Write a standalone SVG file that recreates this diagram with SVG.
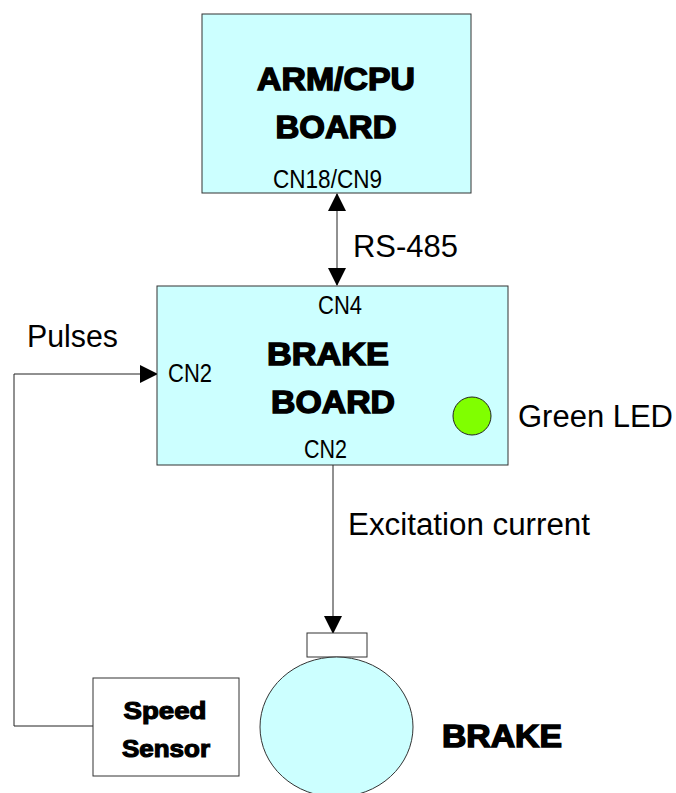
<svg xmlns="http://www.w3.org/2000/svg" width="676" height="793" viewBox="0 0 676 793">
<style>
.box{fill:#CCFFFF;stroke:#333;stroke-width:1}
.wbox{fill:#fff;stroke:#333;stroke-width:1}
.ln{fill:none;stroke:#222;stroke-width:1}
.lbl{font-family:"Liberation Sans",Arial,sans-serif;font-size:31px;fill:#000}
.cn{font-family:"Liberation Sans",Arial,sans-serif;font-size:25px;fill:#000}
.bold{font-family:"Liberation Sans",Arial,sans-serif;font-weight:bold;font-size:31px;fill:#000;stroke:#000;stroke-width:1.4;text-anchor:middle}
</style>
<defs>
<marker id="ah" markerWidth="18" markerHeight="18" viewBox="0 0 18 18" refX="17" refY="9" orient="auto" markerUnits="userSpaceOnUse">
<path d="M0,0 L18,9 L0,18 Z" fill="#000"/>
</marker>
<marker id="ahs" markerWidth="18" markerHeight="18" viewBox="0 0 18 18" refX="1" refY="9" orient="auto" markerUnits="userSpaceOnUse">
<path d="M18,0 L0,9 L18,18 Z" fill="#000"/>
</marker>
</defs>
<g id="connectors">
<line class="ln" x1="337" y1="194" x2="337" y2="285" marker-start="url(#ahs)" marker-end="url(#ah)"/>
<polyline class="ln" points="93,726 14,726 14,374 157,374" marker-end="url(#ah)"/>
<line class="ln" x1="333" y1="465" x2="333" y2="633" marker-end="url(#ah)"/>
<text class="lbl" x="353" y="257" textLength="105" lengthAdjust="spacingAndGlyphs">RS-485</text>
<text class="lbl" x="27" y="347" textLength="91" lengthAdjust="spacingAndGlyphs">Pulses</text>
<text class="lbl" x="348" y="535" textLength="242" lengthAdjust="spacingAndGlyphs">Excitation current</text>
</g>
<g id="arm-cpu-board">
<rect class="box" x="202" y="14" width="269" height="179"/>
<text class="bold" x="336" y="90" textLength="158" lengthAdjust="spacingAndGlyphs">ARM/CPU</text>
<text class="bold" x="336" y="138" textLength="121" lengthAdjust="spacingAndGlyphs">BOARD</text>
<text class="cn" x="273" y="188" textLength="109" lengthAdjust="spacingAndGlyphs">CN18/CN9</text>
</g>
<g id="brake-board">
<rect class="box" x="157" y="286" width="351" height="179"/>
<text class="cn" x="318" y="314" textLength="44" lengthAdjust="spacingAndGlyphs">CN4</text>
<text class="bold" x="328" y="365" textLength="122" lengthAdjust="spacingAndGlyphs">BRAKE</text>
<text class="bold" x="333" y="413" textLength="124" lengthAdjust="spacingAndGlyphs">BOARD</text>
<text class="cn" x="168" y="382" textLength="44" lengthAdjust="spacingAndGlyphs">CN2</text>
<text class="cn" x="304" y="458" textLength="43" lengthAdjust="spacingAndGlyphs">CN2</text>
</g>
<g id="green-led">
<circle cx="472" cy="416" r="19" fill="#80FF00" stroke="#222" stroke-width="1"/>
<text class="lbl" x="518" y="427" textLength="155" lengthAdjust="spacingAndGlyphs">Green LED</text>
</g>
<g id="speed-sensor">
<rect class="wbox" x="93" y="678" width="146" height="98"/>
<text class="bold" x="165" y="719" style="font-size:23px;stroke-width:1.1" textLength="83" lengthAdjust="spacingAndGlyphs">Speed</text>
<text class="bold" x="166" y="757" style="font-size:23px;stroke-width:1.1" textLength="88" lengthAdjust="spacingAndGlyphs">Sensor</text>
</g>
<g id="brake">
<rect class="wbox" x="307" y="633" width="60" height="24"/>
<ellipse class="box" cx="336.5" cy="727" rx="76.5" ry="70"/>
<text class="bold" x="502" y="747" textLength="120" lengthAdjust="spacingAndGlyphs">BRAKE</text>
</g>
</svg>
